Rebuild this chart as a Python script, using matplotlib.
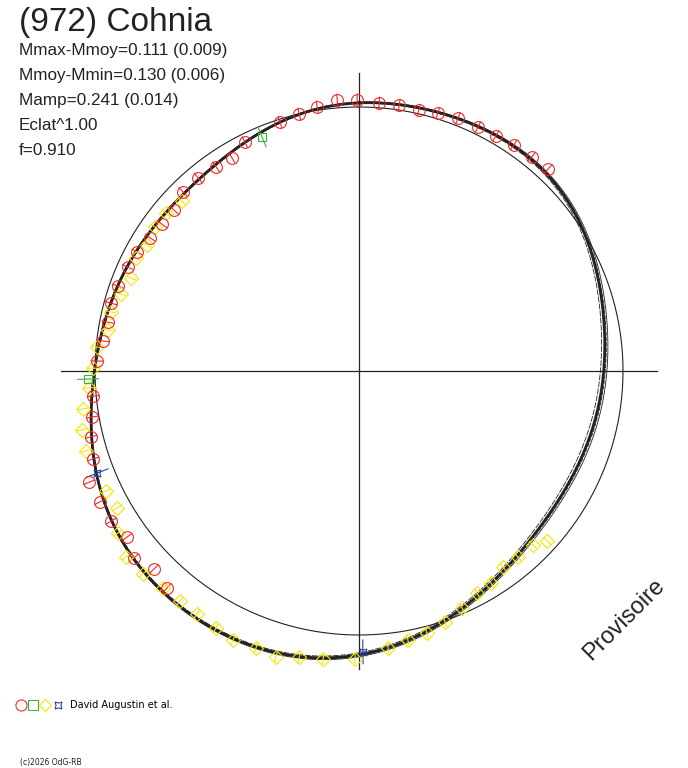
import numpy as np
import matplotlib
matplotlib.use("Agg")
import matplotlib.pyplot as plt
from matplotlib.collections import LineCollection
from matplotlib.lines import Line2D
from matplotlib.legend_handler import HandlerTuple

# fitted lightcurve, radius (in units of the reference circle) read every 10 deg
fit_deg = [0, 10, 20, 30, 40, 50, 60, 70, 80, 90, 100, 110,
           120, 130, 140, 150, 160, 170, 180, 190, 200, 210, 220, 230,
           240, 250, 260, 270, 280, 290, 300, 310, 320, 330, 340, 350]
fit_r = [1.015, 1.019, 1.028, 1.030, 1.038, 1.017, 0.996, 0.970, 0.943, 0.924, 0.919, 0.905,
         0.894, 0.909, 0.926, 0.947, 0.994, 1.042, 1.076, 1.095, 1.119, 1.121, 1.121, 1.106,
         1.098, 1.061, 1.027, 1.008, 0.981, 0.966, 0.955, 0.949, 0.947, 0.955, 0.985, 1.006]
# half spread of the alternative fits
fit_spread = [0.004, 0.004, 0.004, 0.004, 0.004, 0.006, 0.010, 0.013, 0.013, 0.013, 0.013, 0.013,
              0.013, 0.013, 0.011, 0.009, 0.007, 0.008, 0.008, 0.008, 0.006, 0.003, 0.003, 0.003,
              0.003, 0.003, 0.003, 0.003, 0.003, 0.003, 0.003, 0.003, 0.003, 0.003, 0.003, 0.003]

# observations (angle in degrees, radius)
red_deg = [272.2, 264.6, 260.2, 256.2, 251.7, 247.6, 243.2, 238.8, 234.4, 230.3, 226.0, 221.5,
           276.7, 281.0, 285.3, 289.4, 294.2, 298.2, 302.5, 306.7, 311.0, 315.5, 320.2, 325.0,
           329.2, 333.5, 342.4, 346.9, 351.0, 355.4, 359.6, 4.3, 8.6, 12.9, 17.0, 21.4,
           26.0, 30.2, 34.4, 38.9, 43.1]
red_r = [0.993, 1.012, 1.026, 1.045, 1.061, 1.106, 1.099, 1.098, 1.081, 1.108, 1.080, 1.097,
         0.976, 0.969, 0.974, 0.968, 0.960, 0.954, 0.938, 0.931, 0.929, 0.951, 0.952, 0.944,
         0.939, 0.969, 0.989, 1.000, 1.013, 1.030, 1.027, 1.018, 1.019, 1.014, 1.022, 1.029,
         1.028, 1.030, 1.038, 1.042, 1.048]
yel_deg = [313.8, 309.3, 305.2, 300.7, 296.9, 292.2, 287.9, 283.4, 279.3, 275.2, 270.6, 266.4,
           262.2, 258.0, 253.7, 244.6, 240.5, 236.1, 231.4, 226.8, 222.1, 217.9, 213.7, 209.1,
           205.1, 200.4, 196.2, 191.8, 187.1, 180.8, 174.0, 169.7, 165.5, 161.1, 156.5, 152.0,
           148.1, 143.7, 139.5, 135.0, 132.1]
yel_r = [0.930, 0.945, 0.946, 0.934, 0.947, 0.933, 0.947, 0.966, 0.963, 0.997, 1.008, 1.025,
         1.055, 1.073, 1.078, 1.061, 1.053, 1.100, 1.129, 1.123, 1.108, 1.106, 1.106, 1.114,
         1.125, 1.119, 1.128, 1.107, 1.099, 1.091, 1.055, 1.036, 1.025, 1.005, 0.979, 0.952,
         0.946, 0.921, 0.927, 0.932, 0.960]
grn_deg = [337.5, 268.3]
grn_r = [0.959, 1.027]
blu_deg = [248.7, 179.2]
blu_r = [1.065, 1.064]

# radial error (same units)
err = {"red": 0.024, "yel": 0.02, "grn": 0.042, "blu": 0.047}

title = "(972) Cohnia"
info = ["Mmax-Mmoy=0.111 (0.009)", "Mmoy-Mmin=0.130 (0.006)", "Mamp=0.241 (0.014)",
        "Eclat^1.00", "f=0.910"]
observer = "David Augustin et al."

RED = "#f02828"
YEL = "#f5e600"
GRN = "#3cb43c"
BLU = "#2c44a8"


def to_xy(deg, r):
    t = np.radians(np.asarray(deg, dtype=float))
    r = np.asarray(r, dtype=float)
    return r * np.sin(t), r * np.cos(t)


def fourier(deg, val, order, out_deg):
    # smooth periodic fit through the values
    t = np.radians(np.asarray(deg, dtype=float))
    cols = [np.ones_like(t)]
    for k in range(1, order + 1):
        cols += [np.cos(k * t), np.sin(k * t)]
    coef = np.linalg.lstsq(np.array(cols).T, np.asarray(val), rcond=None)[0]
    to = np.radians(out_deg)
    res = coef[0] * np.ones_like(to)
    for k in range(1, order + 1):
        res += coef[2 * k - 1] * np.cos(k * to) + coef[2 * k] * np.sin(k * to)
    return res


W, H = 688, 768
R = 264.0
cx, cy = 359, 371
fig = plt.figure(figsize=(W / 100, H / 100), dpi=100)
ax = fig.add_axes([0, 0, 1, 1])
ax.set_xlim(-cx / R, (W - cx) / R)
ax.set_ylim(-(H - cy) / R, cy / R)
ax.axis("off")

# axes cross and reference circle
L = 1.13
ax.plot([-L, L], [0, 0], color="#222222", lw=0.9)
ax.plot([0, 0], [-L, L], color="#222222", lw=0.9)
tt = np.linspace(0, 2 * np.pi, 400)
ax.plot(np.sin(tt), np.cos(tt), color="#222222", lw=0.8)

# fitted curves
fd = np.linspace(0, 360, 721)
fr = fourier(fit_deg, fit_r, 7, fd)
fs = fourier(fit_deg, fit_spread, 3, fd)
for k, ls in [(-1.0, (0, (7, 1.5))), (0.5, (0, (5, 1.5))), (1.0, "-")]:
    x, y = to_xy(fd, fr * (1 + k * fs))
    ax.plot(x, y, color="#222222", lw=0.6, ls=ls)
x, y = to_xy(fd, fr)
ax.plot(x, y, color="#222222", lw=2.0)


def obs(deg, r, e, color, marker, ms, mew=0.8):
    deg = np.asarray(deg, dtype=float)
    r = np.asarray(r, dtype=float)
    x0, y0 = to_xy(deg, r - e)
    x1, y1 = to_xy(deg, r + e)
    segs = [[(a, b), (c, d)] for a, b, c, d in zip(x0, y0, x1, y1)]
    ax.add_collection(LineCollection(segs, colors=color, linewidths=0.8, zorder=4))
    x, y = to_xy(deg, r)
    ax.plot(x, y, ls="none", marker=marker, ms=ms, mfc="none", mec=color, mew=mew, zorder=5)


obs(yel_deg, yel_r, err["yel"], YEL, "D", 7.5)
obs(red_deg, red_r, err["red"], RED, "o", 8.5)
obs(grn_deg, grn_r, err["grn"], GRN, "s", 6)
obs(blu_deg, blu_r, err["blu"], BLU, (4, 1, 45), 7)

# texts
fig.text(19 / W, 1 - 22 / H, title, fontsize=24, family="Liberation Sans",
         color="#222222", va="center", ha="left")
for i, s in enumerate(info):
    fig.text(19 / W, 1 - (51 + 24.8 * i) / H, s, fontsize=12.3, family="Liberation Sans",
             color="#222222", va="center", ha="left")
fig.text(624 / W, 1 - 620 / H, "Provisoire", fontsize=17, family="Liberation Sans",
         color="#222222", rotation=45, ha="center", va="center")
fig.text(20 / W, 1 - 762 / H, "(c)2026 OdG-RB", fontsize=5.5, family="DejaVu Sans",
         color="#222222", va="center", ha="left")

hs = (Line2D([], [], ls="none", marker="o", ms=8, mfc="none", mec=RED, mew=0.8),
      Line2D([], [], ls="none", marker="s", ms=6.5, mfc="none", mec=GRN, mew=0.8),
      Line2D([], [], ls="none", marker="D", ms=6.5, mfc="none", mec=YEL, mew=0.8),
      Line2D([], [], ls="none", marker=(4, 1, 45), ms=7, mfc="none", mec=BLU, mew=0.8))
fig.legend([hs], [observer], handler_map={tuple: HandlerTuple(ndivide=None, pad=0)},
           loc="center left", bbox_to_anchor=(15 / W, 1 - 705 / H), frameon=False,
           borderpad=0, borderaxespad=0, handlelength=5.0, handletextpad=0.7,
           prop={"family": "DejaVu Sans", "size": 7})

fig.savefig("out.png", dpi=100)
